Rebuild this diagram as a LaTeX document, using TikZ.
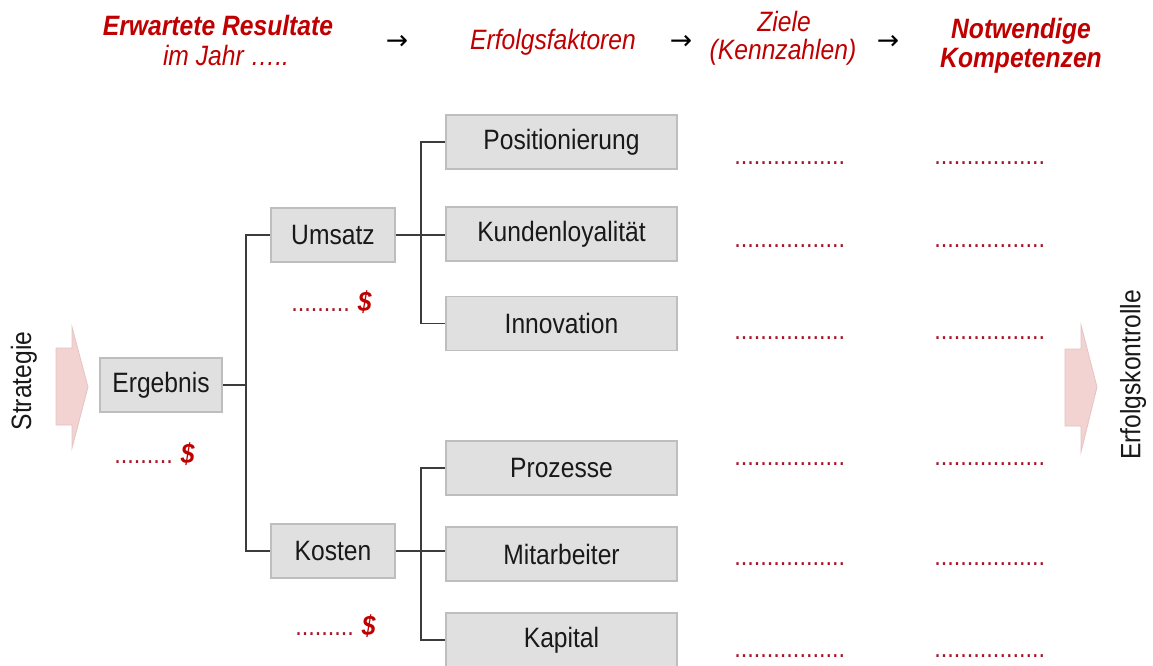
\documentclass[tikz,border=0pt]{standalone}
\usepackage{fontspec}
\setmainfont{Liberation Sans}[FakeStretch=0.88]
\newfontfamily\symfont{DejaVu Sans}
\definecolor{hred}{RGB}{192,0,0}
\definecolor{dred}{RGB}{170,20,40}
\definecolor{boxfill}{RGB}{224,224,224}
\definecolor{boxline}{RGB}{190,190,190}
\definecolor{connc}{RGB}{60,60,60}
\definecolor{pinkfill}{RGB}{243,210,210}
\definecolor{pinkline}{RGB}{228,195,195}
\definecolor{txt}{RGB}{25,25,25}
\tikzset{
  box/.style={draw=boxline, line width=1pt, fill=boxfill, minimum height=40.5pt, inner sep=0pt, text=txt, font=\fontsize{21}{24}\selectfont},
  smallbox/.style={box, minimum width=93pt},
  widebox/.style={box, minimum width=173.25pt},
  conn/.style={draw=connc, line width=1.1pt},
  hbold/.style={text=hred, font=\fontsize{21}{24}\selectfont\bfseries\itshape, inner sep=0pt},
  hit/.style={text=hred, font=\fontsize{21}{24}\selectfont\itshape, inner sep=0pt},
  harrow/.style={text=black, font=\fontsize{20}{23}\selectfont\symfont, inner sep=0pt},
  dotrow/.style={text=dred, font=\fontsize{20}{23}\selectfont, inner sep=0pt, anchor=base west},
  pinkarrow/.style={fill=pinkfill, draw=pinkline, line width=0.6pt},
  side/.style={rotate=90, text=txt, font=\fontsize{21}{24}\selectfont, inner sep=0pt}
}
\begin{document}
\begin{tikzpicture}[x=0.75pt,y=-0.75pt]
\useasboundingbox (0,0) rectangle (1153,665);
\clip (0,0) rectangle (1153,665);
\fill[white] (0,0) rectangle (1153,665);

% header
\node[hbold] (h1a) at (218,25) {Erwartete Resultate};
\node[hit] (h1b) at (226,55) {im Jahr …..};
\node[harrow] (a1) at (397,42) {→};
\node[hit] (h2) at (553,42) {Erfolgsfaktoren};
\node[harrow] (a2) at (681,42) {→};
\node[hit] (h3a) at (784,21) {Ziele};
\node[hit] (h3b) at (783,52) {(Kennzahlen)};
\node[harrow] (a3) at (888,42) {→};
\node[hbold] (h4a) at (1021,31) {Notwendige};
\node[hbold] (h4b) at (1021,61) {Kompetenzen};

% side arrows
\path[pinkarrow] (56,348) -- (72,348) -- (72,327) -- (88,387) -- (72,448) -- (72,425) -- (56,425) -- cycle;
\path[pinkarrow] (1065,349) -- (1081,349) -- (1081,325) -- (1097,387) -- (1081,452) -- (1081,426) -- (1065,426) -- cycle;
\node[side] (strat) at (24,381) {Strategie};
\node[side] (ekon) at (1133,375) {Erfolgskontrolle};

% boxes
\node[box, minimum width=91.5pt] (erg) at (161,385) {Ergebnis};
\node[smallbox] (ums) at (333,235) {Umsatz};
\node[smallbox] (kos) at (333,551) {Kosten};
\node[widebox] (pos) at (561.5,142) {Positionierung};
\node[widebox] (kun) at (561.5,234) {Kundenloyalität};
\node[widebox] (inn) at (561.5,323.5) {Innovation};
\node[widebox] (pro) at (561.5,468) {Prozesse};
\node[widebox] (mit) at (561.5,554) {Mitarbeiter};
\node[widebox] (kap) at (561.5,640) {Kapital};

% connectors
\coordinate (j1) at (246,385);
\coordinate (j2) at (421,235);
\coordinate (j3) at (421,551);
\draw[conn] (erg.east) -- (j1);
\draw[conn] (ums.west) -| (j1) |- (kos.west);
\draw[conn] (ums.east) -- (ums.east -| kun.west);
\draw[conn] (pos.west) -| (j2) |- (inn.west);
\draw[conn] (kos.east) -- (kos.east -| mit.west);
\draw[conn] (pro.west) -| (j3) |- (kap.west);

% dollar labels
\node[dotrow] (d1) at (114,463) {.........\hspace{6pt}{\fontsize{21}{24}\selectfont\bfseries\itshape\color{hred}\$}};
\node[dotrow] (d2) at (291,311) {.........\hspace{6pt}{\fontsize{21}{24}\selectfont\bfseries\itshape\color{hred}\$}};
\node[dotrow] (d3) at (295,635) {.........\hspace{6pt}{\fontsize{21}{24}\selectfont\bfseries\itshape\color{hred}\$}};

% dotted placeholders
\foreach \yy [count=\i] in {164,247,339,465,565,657}{
  \node[dotrow] (zk\i) at (734,\yy) {.................};
  \node[dotrow] (kp\i) at (934,\yy) {.................};
}
\end{tikzpicture}
\end{document}
